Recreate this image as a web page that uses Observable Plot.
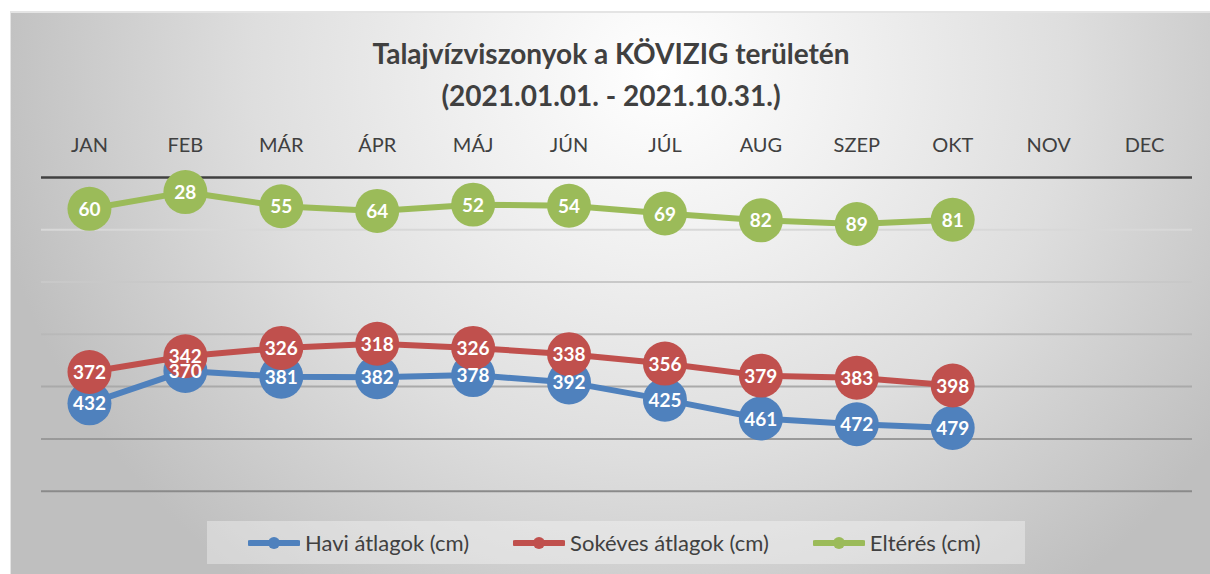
<!DOCTYPE html>
<html>
<head>
<meta charset="utf-8">
<script src="https://cdn.jsdelivr.net/npm/d3@7"></script>
<script src="https://cdn.jsdelivr.net/npm/@observablehq/plot@0.6"></script>
<style>
  html, body { margin: 0; padding: 0; background: #fff; }
  body { width: 1210px; height: 574px; overflow: hidden; position: relative; font-family: Lato, "Open Sans", sans-serif; }
  #frame {
    position: absolute; left: 10px; top: 11px; width: 1200px; height: 563px;
    border-top: 2px solid #e4e4e4; border-left: 1px solid #e4e4e4; box-sizing: border-box;
    background: radial-gradient(ellipse 680px 640px at 650px 60px, #ffffff 0%, #efefef 30%, #dedede 60%, #bfbfbf 100%);
  }
  #title {
    position: absolute; left: 0; top: 19px; width: 1200px; text-align: center;
    font: bold 28px Lato, sans-serif; line-height: 42px; color: #404040;
  }
  #chart { position: absolute; left: 0; top: 104px; }
  #legend {
    position: absolute; left: 196px; top: 508px; width: 818px; height: 43px;
    background: rgba(255,255,255,0.35); display: flex; align-items: center;
    padding-left: 41px; box-sizing: border-box; gap: 44px;
    font: 22px Lato, sans-serif; color: #404040;
  }
  .item { display: flex; align-items: center; gap: 5px; white-space: nowrap; }
</style>
</head>
<body>
<div id="frame">
  <div id="title"></div>
  <div id="chart"></div>
  <div id="legend"></div>
</div>
<script>
const titleLines = ["Talajvízviszonyok a KÖVIZIG területén", "(2021.01.01. - 2021.10.31.)"];
const months = ["JAN", "FEB", "MÁR", "ÁPR", "MÁJ", "JÚN", "JÚL", "AUG", "SZEP", "OKT", "NOV", "DEC"];
const seriesNames = ["Havi átlagok (cm)", "Sokéves átlagok (cm)", "Eltérés (cm)"];
const havi = [432, 370, 381, 382, 378, 392, 425, 461, 472, 479];
const sokeves = [372, 342, 326, 318, 326, 338, 356, 379, 383, 398];
const elteres = [60, 28, 55, 64, 52, 54, 69, 82, 89, 81];
const gridValues = [100, 200, 300, 400, 500, 600];
const colors = ["#4f81bd", "#c0504d", "#9bbb59"];

document.getElementById("title").innerHTML = titleLines.map(t => `<div>${t}</div>`).join("");

const seriesValues = [havi, sokeves, elteres];
const data = seriesValues.flatMap((vals, s) => vals.map((v, i) => ({series: seriesNames[s], month: months[i], value: v, color: colors[s]})));

const marks = [
  Plot.ruleY(gridValues, {stroke: "url(#gridGrad)", strokeWidth: 2}),
  Plot.ruleY([0], {stroke: "#404040", strokeWidth: 2.5}),
  Plot.axisX({anchor: "top", tickSize: 0, tickPadding: 25, fontSize: 20, fill: "#404040"})
];
seriesNames.forEach((name, s) => {
  const d = data.filter(r => r.series === name);
  marks.push(Plot.line(d, {x: "month", y: "value", stroke: colors[s], strokeWidth: 6, strokeLinejoin: "round"}));
  marks.push(Plot.dot(d, {x: "month", y: "value", r: 22, fill: colors[s], stroke: "none"}));
});
marks.push(Plot.text(data, {x: "month", y: "value", text: d => String(d.value), fill: "white", fontWeight: "bold", fontSize: 19, dy: 1}));

const chart = Plot.plot({
  width: 1200,
  height: 395,
  marginLeft: 30,
  marginRight: 18,
  marginTop: 60,
  marginBottom: 21,
  style: {background: "transparent", fontFamily: "Lato, sans-serif", color: "#404040", overflow: "visible"},
  x: {type: "point", domain: months, padding: 0.5, label: null},
  y: {domain: [0, 600], reverse: true, axis: null},
  marks
});

const ys = chart.scale("y");
const y1 = ys.apply(100), y2 = ys.apply(600);
d3.select(chart).insert("defs", ":first-child").html(
  `<linearGradient id="gridGrad" gradientUnits="userSpaceOnUse" x1="0" y1="${y1}" x2="0" y2="${y2}">
     <stop offset="0" stop-color="#d8d8d8"/><stop offset="1" stop-color="#8a8a8a"/>
   </linearGradient>`
);
document.getElementById("chart").appendChild(chart);

const legend = document.getElementById("legend");
seriesNames.forEach((name, s) => {
  const item = document.createElement("div");
  item.className = "item";
  item.innerHTML = `<svg width="52" height="14"><line x1="2" y1="7" x2="50" y2="7" stroke="${colors[s]}" stroke-width="6" stroke-linecap="round"/><circle cx="26" cy="7" r="6" fill="${colors[s]}"/></svg><span>${name}</span>`;
  legend.appendChild(item);
});
</script>
</body>
</html>
